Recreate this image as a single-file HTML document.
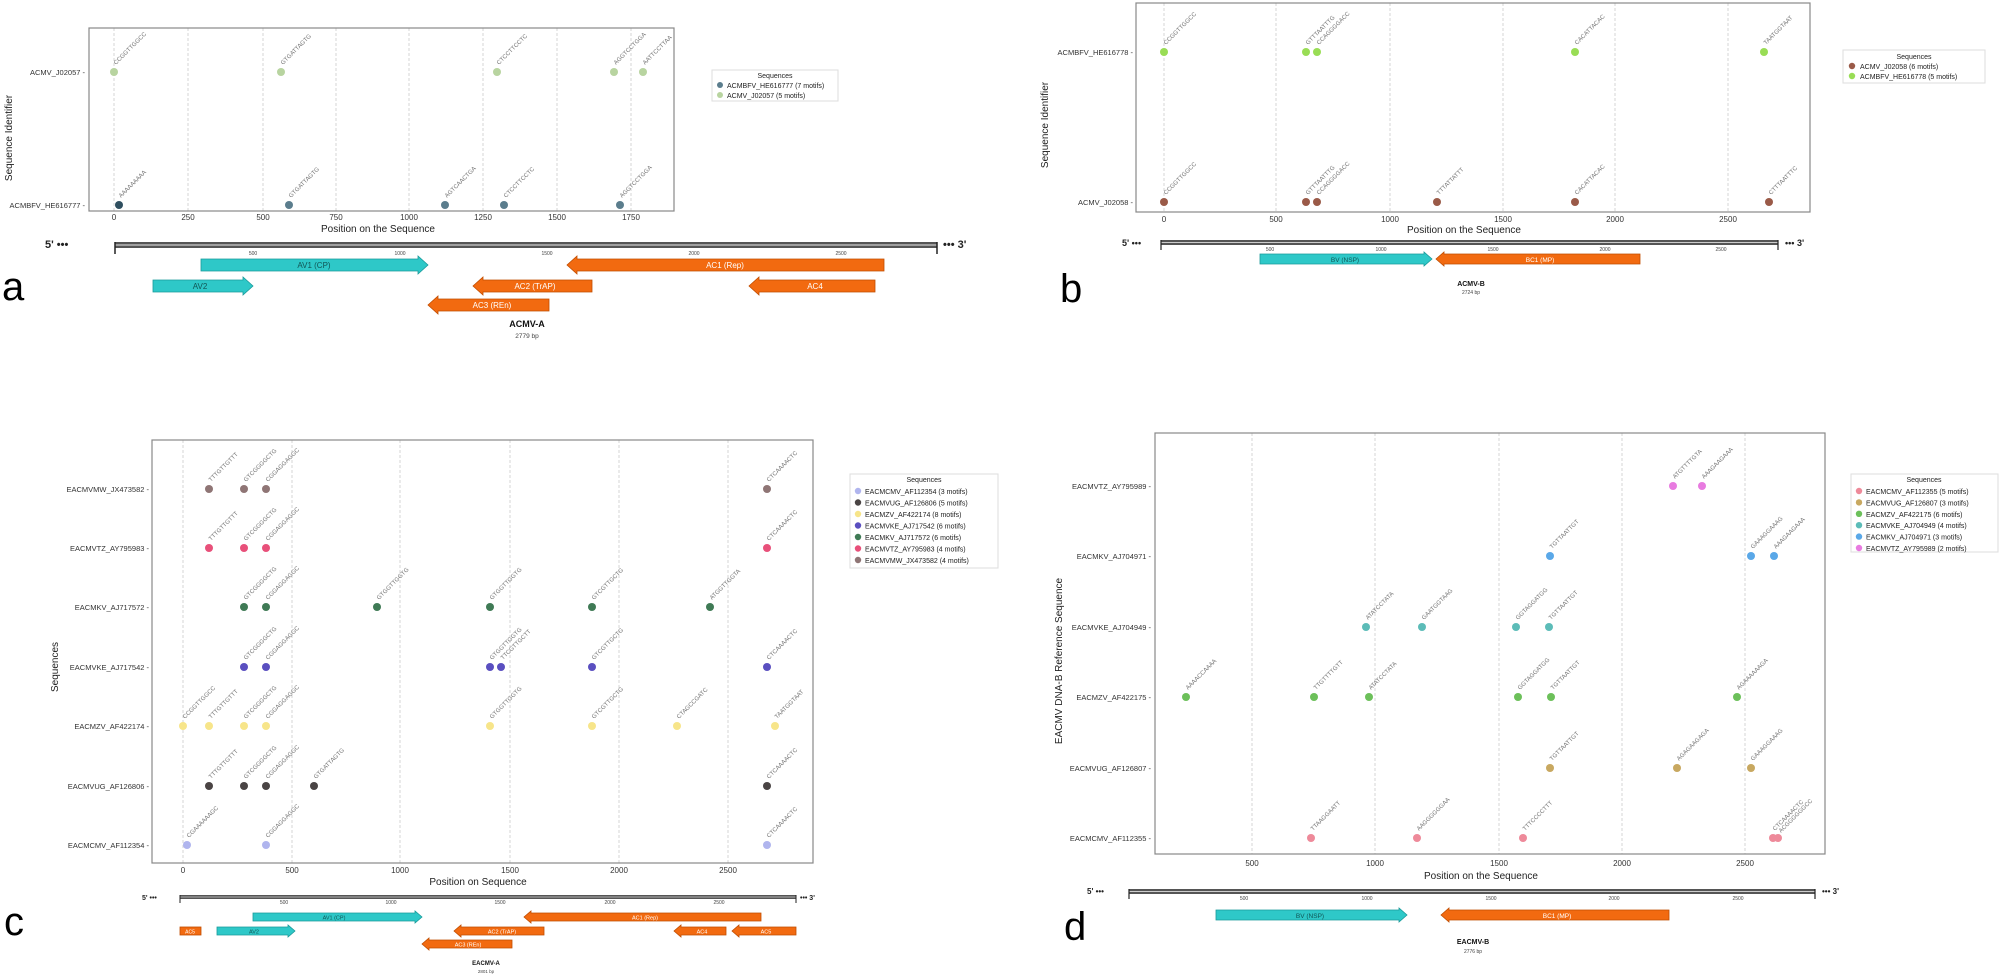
<!DOCTYPE html>
<html><head><meta charset="utf-8"><style>
html,body{margin:0;padding:0;background:#fff}
svg{display:block;font-family:"Liberation Sans",sans-serif}
.t{font-size:8px;fill:#333}
.yt{font-size:7.5px;fill:#333;text-anchor:end}
.m{font-size:6px;fill:#777}
.ax{font-size:10px;fill:#222;text-anchor:middle}
.lg{font-size:7px;fill:#222}
.gl{stroke:#ccc;stroke-width:0.8;stroke-dasharray:3,2}
.box{fill:none;stroke:#888;stroke-width:1.2}
.tv{fill:#2ec8c8;stroke:#1a9a9a;stroke-width:0.8}
.to{fill:#f26a10;stroke:#c04d00;stroke-width:0.8}
.gt{font-size:8px;fill:#222;text-anchor:middle}
.gs{font-size:5px;fill:#444}
.big{font-size:40px;fill:#000}
</style></head><body>
<svg width="2005" height="978" viewBox="0 0 2005 978" xmlns="http://www.w3.org/2000/svg">
<!-- ========== PANEL A ========== -->
<g>
<line class="gl" x1="114" y1="28" x2="114" y2="211"/><line class="gl" x1="188" y1="28" x2="188" y2="211"/><line class="gl" x1="263" y1="28" x2="263" y2="211"/><line class="gl" x1="336" y1="28" x2="336" y2="211"/><line class="gl" x1="409" y1="28" x2="409" y2="211"/><line class="gl" x1="483" y1="28" x2="483" y2="211"/><line class="gl" x1="557" y1="28" x2="557" y2="211"/><line class="gl" x1="631" y1="28" x2="631" y2="211"/>
<rect class="box" x="89" y="28" width="585" height="183"/>
<text class="t" x="114" y="220" text-anchor="middle">0</text><text class="t" x="188" y="220" text-anchor="middle">250</text><text class="t" x="263" y="220" text-anchor="middle">500</text><text class="t" x="336" y="220" text-anchor="middle">750</text><text class="t" x="409" y="220" text-anchor="middle">1000</text><text class="t" x="483" y="220" text-anchor="middle">1250</text><text class="t" x="557" y="220" text-anchor="middle">1500</text><text class="t" x="631" y="220" text-anchor="middle">1750</text>
<text class="ax" x="378" y="232">Position on the Sequence</text>
<text class="ax" transform="translate(12,138) rotate(-90)">Sequence Identifier</text>
<text class="yt" x="85" y="75">ACMV_J02057 -</text>
<text class="yt" x="85" y="208">ACMBFV_HE616777 -</text>
<g fill="#b8d4a0"><circle cx="114" cy="72" r="4"/><circle cx="281" cy="72" r="4"/><circle cx="497" cy="72" r="4"/><circle cx="614" cy="72" r="4"/><circle cx="643" cy="72" r="4"/></g>
<circle cx="119" cy="205" r="4" fill="#2f4f5f"/>
<g fill="#5b7d8d"><circle cx="289" cy="205" r="4"/><circle cx="445" cy="205" r="4"/><circle cx="504" cy="205" r="4"/><circle cx="620" cy="205" r="4"/></g>
<text class="m" transform="translate(116,65) rotate(-45)">CCGGTTGGCC</text>
<text class="m" transform="translate(283,65) rotate(-45)">GTGATTAGTG</text>
<text class="m" transform="translate(499,65) rotate(-45)">CTCCTTCCTC</text>
<text class="m" transform="translate(616,65) rotate(-45)">AGGTCCTGGA</text>
<text class="m" transform="translate(645,65) rotate(-45)">AATTCCTTAA</text>
<text class="m" transform="translate(121,198) rotate(-45)">AAAAAAAAA</text>
<text class="m" transform="translate(291,198) rotate(-45)">GTGATTAGTG</text>
<text class="m" transform="translate(447,198) rotate(-45)">AGTCAACTGA</text>
<text class="m" transform="translate(506,198) rotate(-45)">CTCCTTCCTC</text>
<text class="m" transform="translate(622,198) rotate(-45)">AGGTCCTGGA</text>
<rect x="712" y="70" width="126" height="31" fill="#fff" stroke="#ddd"/>
<text class="lg" x="775" y="78" text-anchor="middle">Sequences</text>
<circle cx="720" cy="85" r="3" fill="#5b7d8d"/><text class="lg" x="727" y="88">ACMBFV_HE616777 (7 motifs)</text>
<circle cx="720" cy="95" r="3" fill="#b8d4a0"/><text class="lg" x="727" y="98">ACMV_J02057 (5 motifs)</text>
<!-- genome map A -->
<text x="45" y="248" font-size="11" font-weight="bold" fill="#222">5' •••</text>
<text x="943" y="248" font-size="11" font-weight="bold" fill="#222">••• 3'</text>
<rect x="115" y="242" width="822" height="6" fill="#555"/><line x1="115" y1="245" x2="937" y2="245" stroke="#ccc" stroke-width="1.2"/>
<line x1="115" y1="242" x2="115" y2="254" stroke="#222" stroke-width="1.5"/><line x1="937" y1="242" x2="937" y2="254" stroke="#222" stroke-width="1.5"/>
<text class="gs" x="253" y="255" text-anchor="middle" font-size="7">500</text><text class="gs" x="400" y="255" text-anchor="middle" font-size="7">1000</text><text class="gs" x="547" y="255" text-anchor="middle" font-size="7">1500</text><text class="gs" x="694" y="255" text-anchor="middle" font-size="7">2000</text><text class="gs" x="841" y="255" text-anchor="middle" font-size="7">2500</text>
<polygon class="tv" points="201,259 418,259 418,256 428,265 418,274 418,271 201,271"/><text x="314" y="268" font-size="8" fill="#155" text-anchor="middle">AV1 (CP)</text>
<polygon class="to" points="884,259 577,259 577,256 567,265 577,274 577,271 884,271"/><text x="725" y="268" font-size="8" fill="#fff" text-anchor="middle">AC1 (Rep)</text>
<polygon class="tv" points="153,280 243,280 243,277 253,286 243,295 243,292 153,292"/><text x="200" y="289" font-size="8" fill="#155" text-anchor="middle">AV2</text>
<polygon class="to" points="592,280 483,280 483,277 473,286 483,295 483,292 592,292"/><text x="535" y="289" font-size="8" fill="#fff" text-anchor="middle">AC2 (TrAP)</text>
<polygon class="to" points="875,280 759,280 759,277 749,286 759,295 759,292 875,292"/><text x="815" y="289" font-size="8" fill="#fff" text-anchor="middle">AC4</text>
<polygon class="to" points="549,299 438,299 438,296 428,305 438,314 438,311 549,311"/><text x="492" y="308" font-size="8" fill="#fff" text-anchor="middle">AC3 (REn)</text>
<text x="527" y="327" font-size="9" font-weight="bold" fill="#111" text-anchor="middle">ACMV-A</text>
<text x="527" y="338" font-size="6.5" fill="#444" text-anchor="middle">2779 bp</text>
<text class="big" x="2" y="300">a</text>
</g>
<!-- ========== PANEL B ========== -->
<g>
<line class="gl" x1="1164" y1="3" x2="1164" y2="212"/><line class="gl" x1="1276" y1="3" x2="1276" y2="212"/><line class="gl" x1="1390" y1="3" x2="1390" y2="212"/><line class="gl" x1="1503" y1="3" x2="1503" y2="212"/><line class="gl" x1="1615" y1="3" x2="1615" y2="212"/><line class="gl" x1="1728" y1="3" x2="1728" y2="212"/>
<rect class="box" x="1136" y="3" width="674" height="209"/>
<text class="t" x="1164" y="222" text-anchor="middle">0</text><text class="t" x="1276" y="222" text-anchor="middle">500</text><text class="t" x="1390" y="222" text-anchor="middle">1000</text><text class="t" x="1503" y="222" text-anchor="middle">1500</text><text class="t" x="1615" y="222" text-anchor="middle">2000</text><text class="t" x="1728" y="222" text-anchor="middle">2500</text>
<text class="ax" x="1464" y="233">Position on the Sequence</text>
<text class="ax" transform="translate(1048,125) rotate(-90)">Sequence Identifier</text>
<text class="yt" x="1133" y="55">ACMBFV_HE616778 -</text>
<text class="yt" x="1133" y="205">ACMV_J02058 -</text>
<g fill="#99dd55"><circle cx="1164" cy="52" r="4"/><circle cx="1306" cy="52" r="4"/><circle cx="1317" cy="52" r="4"/><circle cx="1575" cy="52" r="4"/><circle cx="1764" cy="52" r="4"/></g>
<g fill="#9a5a48"><circle cx="1164" cy="202" r="4"/><circle cx="1306" cy="202" r="4"/><circle cx="1317" cy="202" r="4"/><circle cx="1437" cy="202" r="4"/><circle cx="1575" cy="202" r="4"/><circle cx="1769" cy="202" r="4"/></g>
<text class="m" transform="translate(1166,45) rotate(-45)">CCGGTTGGCC</text>
<text class="m" transform="translate(1308,45) rotate(-45)">GTTTAATTTG</text>
<text class="m" transform="translate(1319,45) rotate(-45)">CCAGGGGACC</text>
<text class="m" transform="translate(1577,45) rotate(-45)">CACATTACAC</text>
<text class="m" transform="translate(1766,45) rotate(-45)">TAATGGTAAT</text>
<text class="m" transform="translate(1166,195) rotate(-45)">CCGGTTGGCC</text>
<text class="m" transform="translate(1308,195) rotate(-45)">GTTTAATTTG</text>
<text class="m" transform="translate(1319,195) rotate(-45)">CCAGGGGACC</text>
<text class="m" transform="translate(1439,195) rotate(-45)">TTTATTATTT</text>
<text class="m" transform="translate(1577,195) rotate(-45)">CACATTACAC</text>
<text class="m" transform="translate(1771,195) rotate(-45)">CTTTAATTTC</text>
<rect x="1843" y="50" width="142" height="33" fill="#fff" stroke="#ddd"/>
<text class="lg" x="1914" y="59" text-anchor="middle">Sequences</text>
<circle cx="1852" cy="66" r="3.2" fill="#9a5a48"/><text class="lg" x="1860" y="69">ACMV_J02058 (6 motifs)</text>
<circle cx="1852" cy="76" r="3.2" fill="#99dd55"/><text class="lg" x="1860" y="79">ACMBFV_HE616778 (5 motifs)</text>
<text x="1122" y="246" font-size="9" font-weight="bold" fill="#222">5' •••</text>
<text x="1785" y="246" font-size="9" font-weight="bold" fill="#222">••• 3'</text>
<rect x="1161" y="240" width="617" height="5" fill="#555"/><line x1="1161" y1="242.5" x2="1778" y2="242.5" stroke="#ccc"/>
<line x1="1161" y1="240" x2="1161" y2="250" stroke="#222" stroke-width="1.2"/><line x1="1778" y1="240" x2="1778" y2="250" stroke="#222" stroke-width="1.2"/>
<text class="gs" x="1270" y="251" text-anchor="middle">500</text><text class="gs" x="1381" y="251" text-anchor="middle">1000</text><text class="gs" x="1493" y="251" text-anchor="middle">1500</text><text class="gs" x="1605" y="251" text-anchor="middle">2000</text><text class="gs" x="1721" y="251" text-anchor="middle">2500</text>
<polygon class="tv" points="1260,254 1424,254 1424,252 1432,259 1424,266 1424,264 1260,264"/><text x="1345" y="262" font-size="6.5" fill="#155" text-anchor="middle">BV (NSP)</text>
<polygon class="to" points="1640,254 1444,254 1444,252 1436,259 1444,266 1444,264 1640,264"/><text x="1540" y="262" font-size="6.5" fill="#fff" text-anchor="middle">BC1 (MP)</text>
<text x="1471" y="286" font-size="7" font-weight="bold" fill="#111" text-anchor="middle">ACMV-B</text>
<text x="1471" y="294" font-size="5" fill="#444" text-anchor="middle">2724 bp</text>
<text class="big" x="1060" y="302">b</text>
</g>
<!-- ========== PANEL C ========== -->
<g>
<line class="gl" x1="183" y1="440" x2="183" y2="863"/><line class="gl" x1="292" y1="440" x2="292" y2="863"/><line class="gl" x1="400" y1="440" x2="400" y2="863"/><line class="gl" x1="510" y1="440" x2="510" y2="863"/><line class="gl" x1="619" y1="440" x2="619" y2="863"/><line class="gl" x1="728" y1="440" x2="728" y2="863"/>
<rect class="box" x="152" y="440" width="661" height="423"/>
<text class="t" x="183" y="873" text-anchor="middle">0</text><text class="t" x="292" y="873" text-anchor="middle">500</text><text class="t" x="400" y="873" text-anchor="middle">1000</text><text class="t" x="510" y="873" text-anchor="middle">1500</text><text class="t" x="619" y="873" text-anchor="middle">2000</text><text class="t" x="728" y="873" text-anchor="middle">2500</text>
<text class="ax" x="478" y="885" font-size="8.5">Position on Sequence</text>
<text class="ax" transform="translate(58,667) rotate(-90)" font-size="8">Sequences</text>
<text class="yt" x="149" y="492">EACMVMW_JX473582 -</text>
<text class="yt" x="149" y="551">EACMVTZ_AY795983 -</text>
<text class="yt" x="149" y="610">EACMKV_AJ717572 -</text>
<text class="yt" x="149" y="670">EACMVKE_AJ717542 -</text>
<text class="yt" x="149" y="729">EACMZV_AF422174 -</text>
<text class="yt" x="149" y="789">EACMVUG_AF126806 -</text>
<text class="yt" x="149" y="848">EACMCMV_AF112354 -</text>
<g fill="#8f7575"><circle cx="209" cy="489" r="4"/><circle cx="244" cy="489" r="4"/><circle cx="266" cy="489" r="4"/><circle cx="767" cy="489" r="4"/></g>
<text class="m" transform="translate(211,482) rotate(-45)">TTTGTTGTTT</text><text class="m" transform="translate(246,482) rotate(-45)">GTCGGGGCTG</text><text class="m" transform="translate(268,482) rotate(-45)">CGGAGGAGGC</text><text class="m" transform="translate(769,482) rotate(-45)">CTCAAAACTC</text>
<g fill="#e8507a"><circle cx="209" cy="548" r="4"/><circle cx="244" cy="548" r="4"/><circle cx="266" cy="548" r="4"/><circle cx="767" cy="548" r="4"/></g>
<text class="m" transform="translate(211,541) rotate(-45)">TTTGTTGTTT</text><text class="m" transform="translate(246,541) rotate(-45)">GTCGGGGCTG</text><text class="m" transform="translate(268,541) rotate(-45)">CGGAGGAGGC</text><text class="m" transform="translate(769,541) rotate(-45)">CTCAAAACTC</text>
<g fill="#3f7a55"><circle cx="244" cy="607" r="4"/><circle cx="266" cy="607" r="4"/><circle cx="377" cy="607" r="4"/><circle cx="490" cy="607" r="4"/><circle cx="592" cy="607" r="4"/><circle cx="710" cy="607" r="4"/></g>
<text class="m" transform="translate(246,600) rotate(-45)">GTCGGGGCTG</text><text class="m" transform="translate(268,600) rotate(-45)">CGGAGGAGGC</text><text class="m" transform="translate(379,600) rotate(-45)">GTGGTTGGTG</text><text class="m" transform="translate(492,600) rotate(-45)">GTGGTTGGTG</text><text class="m" transform="translate(594,600) rotate(-45)">GTCGTTGCTG</text><text class="m" transform="translate(712,600) rotate(-45)">ATGGTTGGTA</text>
<g fill="#5a4fc0"><circle cx="244" cy="667" r="4"/><circle cx="266" cy="667" r="4"/><circle cx="490" cy="667" r="4"/><circle cx="501" cy="667" r="4"/><circle cx="592" cy="667" r="4"/><circle cx="767" cy="667" r="4"/></g>
<text class="m" transform="translate(246,660) rotate(-45)">GTCGGGGCTG</text><text class="m" transform="translate(268,660) rotate(-45)">CGGAGGAGGC</text><text class="m" transform="translate(492,660) rotate(-45)">GTGGTTGGTG</text><text class="m" transform="translate(503,660) rotate(-45)">TTCGTTGCTT</text><text class="m" transform="translate(594,660) rotate(-45)">GTCGTTGCTG</text><text class="m" transform="translate(769,660) rotate(-45)">CTCAAAACTC</text>
<g fill="#f7e58a"><circle cx="183" cy="726" r="4"/><circle cx="209" cy="726" r="4"/><circle cx="244" cy="726" r="4"/><circle cx="266" cy="726" r="4"/><circle cx="490" cy="726" r="4"/><circle cx="592" cy="726" r="4"/><circle cx="677" cy="726" r="4"/><circle cx="775" cy="726" r="4"/></g>
<text class="m" transform="translate(185,719) rotate(-45)">CCGGTTGGCC</text><text class="m" transform="translate(211,719) rotate(-45)">TTTGTTGTTT</text><text class="m" transform="translate(246,719) rotate(-45)">GTCGGGGCTG</text><text class="m" transform="translate(268,719) rotate(-45)">CGGAGGAGGC</text><text class="m" transform="translate(492,719) rotate(-45)">GTGGTTGGTG</text><text class="m" transform="translate(594,719) rotate(-45)">GTCGTTGCTG</text><text class="m" transform="translate(679,719) rotate(-45)">CTAGCCGATC</text><text class="m" transform="translate(777,719) rotate(-45)">TAATGGTAAT</text>
<g fill="#4a4444"><circle cx="209" cy="786" r="4"/><circle cx="244" cy="786" r="4"/><circle cx="266" cy="786" r="4"/><circle cx="314" cy="786" r="4"/><circle cx="767" cy="786" r="4"/></g>
<text class="m" transform="translate(211,779) rotate(-45)">TTTGTTGTTT</text><text class="m" transform="translate(246,779) rotate(-45)">GTCGGGGCTG</text><text class="m" transform="translate(268,779) rotate(-45)">CGGAGGAGGC</text><text class="m" transform="translate(316,779) rotate(-45)">GTGATTAGTG</text><text class="m" transform="translate(769,779) rotate(-45)">CTCAAAACTC</text>
<g fill="#b0b5ee"><circle cx="187" cy="845" r="4"/><circle cx="266" cy="845" r="4"/><circle cx="767" cy="845" r="4"/></g>
<text class="m" transform="translate(189,838) rotate(-45)">CGAAAAAAGC</text><text class="m" transform="translate(268,838) rotate(-45)">CGGAGGAGGC</text><text class="m" transform="translate(769,838) rotate(-45)">CTCAAAACTC</text>
<rect x="850" y="474" width="148" height="94" fill="#fff" stroke="#ddd"/>
<text class="lg" x="924" y="482" text-anchor="middle">Sequences</text>
<circle cx="858" cy="491" r="3.2" fill="#b0b5ee"/><text class="lg" x="865" y="494">EACMCMV_AF112354 (3 motifs)</text>
<circle cx="858" cy="502.5" r="3.2" fill="#4a4444"/><text class="lg" x="865" y="505.5">EACMVUG_AF126806 (5 motifs)</text>
<circle cx="858" cy="514" r="3.2" fill="#f7e58a"/><text class="lg" x="865" y="517">EACMZV_AF422174 (8 motifs)</text>
<circle cx="858" cy="525.5" r="3.2" fill="#5a4fc0"/><text class="lg" x="865" y="528.5">EACMVKE_AJ717542 (6 motifs)</text>
<circle cx="858" cy="537" r="3.2" fill="#3f7a55"/><text class="lg" x="865" y="540">EACMKV_AJ717572 (6 motifs)</text>
<circle cx="858" cy="548.5" r="3.2" fill="#e8507a"/><text class="lg" x="865" y="551.5">EACMVTZ_AY795983 (4 motifs)</text>
<circle cx="858" cy="560" r="3.2" fill="#8f7575"/><text class="lg" x="865" y="563">EACMVMW_JX473582 (4 motifs)</text>
<text x="142" y="900" font-size="7" font-weight="bold" fill="#222">5' •••</text>
<text x="800" y="900" font-size="7" font-weight="bold" fill="#222">••• 3'</text>
<rect x="180" y="895" width="616" height="4" fill="#555"/><line x1="180" y1="897" x2="796" y2="897" stroke="#ccc" stroke-width="0.8"/>
<line x1="180" y1="895" x2="180" y2="903" stroke="#222"/><line x1="796" y1="895" x2="796" y2="903" stroke="#222"/>
<text class="gs" x="284" y="904" text-anchor="middle" font-size="4">500</text><text class="gs" x="391" y="904" text-anchor="middle" font-size="4">1000</text><text class="gs" x="500" y="904" text-anchor="middle" font-size="4">1500</text><text class="gs" x="610" y="904" text-anchor="middle" font-size="4">2000</text><text class="gs" x="719" y="904" text-anchor="middle" font-size="4">2500</text>
<polygon class="tv" points="253,913 415,913 415,911 422,917 415,923 415,921 253,921"/><text x="334" y="919.5" font-size="5.5" fill="#155" text-anchor="middle">AV1 (CP)</text>
<polygon class="to" points="761,913 531,913 531,911 524,917 531,923 531,921 761,921"/><text x="645" y="919.5" font-size="5.5" fill="#fff" text-anchor="middle">AC1 (Rep)</text>
<rect class="to" x="180" y="927" width="21" height="8"/><text x="190" y="933.5" font-size="5" fill="#fff" text-anchor="middle">AC5</text>
<polygon class="tv" points="217,927 288,927 288,925 295,931 288,937 288,935 217,935"/><text x="254" y="933.5" font-size="5.5" fill="#155" text-anchor="middle">AV2</text>
<polygon class="to" points="544,927 461,927 461,925 454,931 461,937 461,935 544,935"/><text x="502" y="933.5" font-size="5.5" fill="#fff" text-anchor="middle">AC2 (TrAP)</text>
<polygon class="to" points="726,927 681,927 681,925 674,931 681,937 681,935 726,935"/><text x="702" y="933.5" font-size="5.5" fill="#fff" text-anchor="middle">AC4</text>
<polygon class="to" points="796,927 739,927 739,925 732,931 739,937 739,935 796,935"/><text x="766" y="933.5" font-size="5.5" fill="#fff" text-anchor="middle">AC5</text>
<polygon class="to" points="512,940 429,940 429,938 422,944 429,950 429,948 512,948"/><text x="468" y="946.5" font-size="5.5" fill="#fff" text-anchor="middle">AC3 (REn)</text>
<text x="486" y="965" font-size="6" font-weight="bold" fill="#111" text-anchor="middle">EACMV-A</text>
<text x="486" y="973" font-size="4.5" fill="#444" text-anchor="middle">2801 bp</text>
<text class="big" x="4" y="935">c</text>
</g>
<!-- ========== PANEL D ========== -->
<g>
<line class="gl" x1="1252" y1="433" x2="1252" y2="854"/><line class="gl" x1="1375" y1="433" x2="1375" y2="854"/><line class="gl" x1="1499" y1="433" x2="1499" y2="854"/><line class="gl" x1="1622" y1="433" x2="1622" y2="854"/><line class="gl" x1="1745" y1="433" x2="1745" y2="854"/>
<rect class="box" x="1155" y="433" width="670" height="421"/>
<text class="t" x="1252" y="866" text-anchor="middle">500</text><text class="t" x="1375" y="866" text-anchor="middle">1000</text><text class="t" x="1499" y="866" text-anchor="middle">1500</text><text class="t" x="1622" y="866" text-anchor="middle">2000</text><text class="t" x="1745" y="866" text-anchor="middle">2500</text>
<text class="ax" x="1481" y="879" font-size="9">Position on the Sequence</text>
<text class="ax" transform="translate(1062,661) rotate(-90)" font-size="9">EACMV DNA-B Reference Sequence</text>
<text class="yt" x="1151" y="489">EACMVTZ_AY795989 -</text>
<text class="yt" x="1151" y="559">EACMKV_AJ704971 -</text>
<text class="yt" x="1151" y="630">EACMVKE_AJ704949 -</text>
<text class="yt" x="1151" y="700">EACMZV_AF422175 -</text>
<text class="yt" x="1151" y="771">EACMVUG_AF126807 -</text>
<text class="yt" x="1151" y="841">EACMCMV_AF112355 -</text>
<g fill="#e87be0"><circle cx="1673" cy="486" r="4"/><circle cx="1702" cy="486" r="4"/></g>
<text class="m" transform="translate(1675,479) rotate(-45)">ATGTTTTGTA</text><text class="m" transform="translate(1704,479) rotate(-45)">AAAGAAGAAA</text>
<g fill="#5aa8e8"><circle cx="1550" cy="556" r="4"/><circle cx="1751" cy="556" r="4"/><circle cx="1774" cy="556" r="4"/></g>
<text class="m" transform="translate(1552,549) rotate(-45)">TGTTAATTGT</text><text class="m" transform="translate(1753,549) rotate(-45)">GAAAGGAAAG</text><text class="m" transform="translate(1776,549) rotate(-45)">AAAGAAGAAA</text>
<g fill="#5cbcb8"><circle cx="1366" cy="627" r="4"/><circle cx="1422" cy="627" r="4"/><circle cx="1516" cy="627" r="4"/><circle cx="1549" cy="627" r="4"/></g>
<text class="m" transform="translate(1368,620) rotate(-45)">ATATCCTATA</text><text class="m" transform="translate(1424,620) rotate(-45)">GAATGGTAAG</text><text class="m" transform="translate(1518,620) rotate(-45)">GGTAGGATGG</text><text class="m" transform="translate(1551,620) rotate(-45)">TGTTAATTGT</text>
<g fill="#6cc05a"><circle cx="1186" cy="697" r="4"/><circle cx="1314" cy="697" r="4"/><circle cx="1369" cy="697" r="4"/><circle cx="1518" cy="697" r="4"/><circle cx="1551" cy="697" r="4"/><circle cx="1737" cy="697" r="4"/></g>
<text class="m" transform="translate(1188,690) rotate(-45)">AAAACCAAAA</text><text class="m" transform="translate(1316,690) rotate(-45)">TTGTTTTGTT</text><text class="m" transform="translate(1371,690) rotate(-45)">ATATCCTATA</text><text class="m" transform="translate(1520,690) rotate(-45)">GGTAGGATGG</text><text class="m" transform="translate(1553,690) rotate(-45)">TGTTAATTGT</text><text class="m" transform="translate(1739,690) rotate(-45)">AGAAAAAAGA</text>
<g fill="#c8a860"><circle cx="1550" cy="768" r="4"/><circle cx="1677" cy="768" r="4"/><circle cx="1751" cy="768" r="4"/></g>
<text class="m" transform="translate(1552,761) rotate(-45)">TGTTAATTGT</text><text class="m" transform="translate(1679,761) rotate(-45)">AGAGAAGAGA</text><text class="m" transform="translate(1753,761) rotate(-45)">GAAAGGAAAG</text>
<g fill="#ee8a9a"><circle cx="1311" cy="838" r="4"/><circle cx="1417" cy="838" r="4"/><circle cx="1523" cy="838" r="4"/><circle cx="1773" cy="838" r="4"/><circle cx="1778" cy="838" r="4"/></g>
<text class="m" transform="translate(1313,831) rotate(-45)">TTAAGGAATT</text><text class="m" transform="translate(1419,831) rotate(-45)">AAGGGGGGAA</text><text class="m" transform="translate(1525,831) rotate(-45)">TTTCCCCTTT</text><text class="m" transform="translate(1775,831) rotate(-45)">CTCAAAACTC</text><text class="m" transform="translate(1781,833) rotate(-45)">ACGGGGGGCC</text>
<rect x="1851" y="474" width="147" height="78" fill="#fff" stroke="#ddd"/>
<text class="lg" x="1924" y="482" text-anchor="middle">Sequences</text>
<circle cx="1859" cy="491" r="3.2" fill="#ee8a9a"/><text class="lg" x="1866" y="494">EACMCMV_AF112355 (5 motifs)</text>
<circle cx="1859" cy="502.4" r="3.2" fill="#c8a860"/><text class="lg" x="1866" y="505.4">EACMVUG_AF126807 (3 motifs)</text>
<circle cx="1859" cy="513.8" r="3.2" fill="#6cc05a"/><text class="lg" x="1866" y="516.8">EACMZV_AF422175 (6 motifs)</text>
<circle cx="1859" cy="525.2" r="3.2" fill="#5cbcb8"/><text class="lg" x="1866" y="528.2">EACMVKE_AJ704949 (4 motifs)</text>
<circle cx="1859" cy="536.6" r="3.2" fill="#5aa8e8"/><text class="lg" x="1866" y="539.6">EACMKV_AJ704971 (3 motifs)</text>
<circle cx="1859" cy="548" r="3.2" fill="#e87be0"/><text class="lg" x="1866" y="551">EACMVTZ_AY795989 (2 motifs)</text>
<text x="1087" y="894" font-size="8" font-weight="bold" fill="#222">5' •••</text>
<text x="1822" y="894" font-size="8" font-weight="bold" fill="#222">••• 3'</text>
<rect x="1129" y="889" width="686" height="5" fill="#555"/><line x1="1129" y1="891.5" x2="1815" y2="891.5" stroke="#ccc"/>
<line x1="1129" y1="889" x2="1129" y2="899" stroke="#222" stroke-width="1.2"/><line x1="1815" y1="889" x2="1815" y2="899" stroke="#222" stroke-width="1.2"/>
<text class="gs" x="1244" y="900" text-anchor="middle">500</text><text class="gs" x="1367" y="900" text-anchor="middle">1000</text><text class="gs" x="1491" y="900" text-anchor="middle">1500</text><text class="gs" x="1614" y="900" text-anchor="middle">2000</text><text class="gs" x="1738" y="900" text-anchor="middle">2500</text>
<polygon class="tv" points="1216,910 1399,910 1399,908 1407,915 1399,922 1399,920 1216,920"/><text x="1310" y="918" font-size="6.5" fill="#155" text-anchor="middle">BV (NSP)</text>
<polygon class="to" points="1669,910 1449,910 1449,908 1441,915 1449,922 1449,920 1669,920"/><text x="1557" y="918" font-size="6.5" fill="#fff" text-anchor="middle">BC1 (MP)</text>
<text x="1473" y="944" font-size="7" font-weight="bold" fill="#111" text-anchor="middle">EACMV-B</text>
<text x="1473" y="953" font-size="5" fill="#444" text-anchor="middle">2776 bp</text>
<text class="big" x="1064" y="940">d</text>
</g>
</svg>
</body></html>
